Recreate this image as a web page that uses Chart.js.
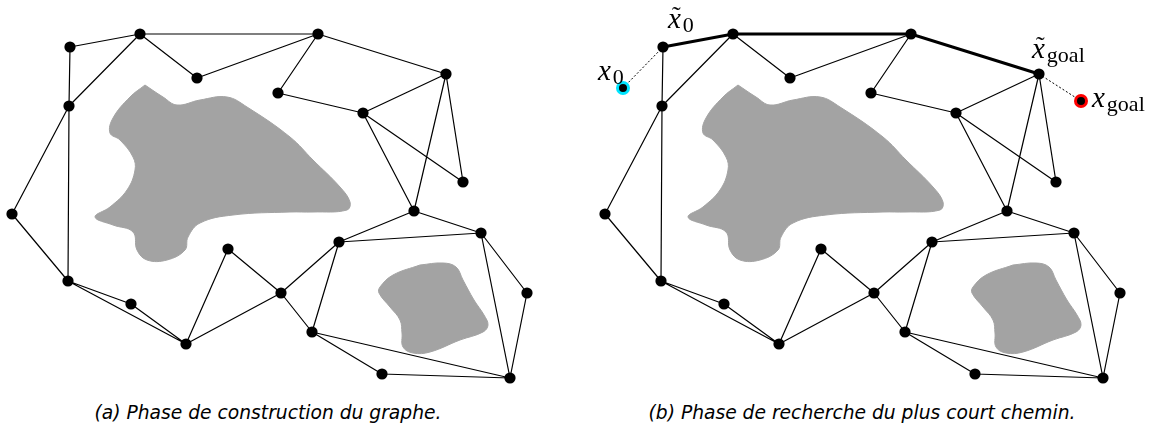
<!DOCTYPE html>
<html>
<head>
<meta charset="utf-8">
<script src="https://cdn.jsdelivr.net/npm/chart.js@4"></script>
<style>
    body { margin: 0; background: #fff; width: 1151px; height: 423px; overflow: hidden; position: relative; }
    .panel { position: absolute; top: 0; width: 558px; height: 390px; }
    .caption {
        position: absolute; top: 403px; width: 560px; text-align: center;
        font-family: 'DejaVu Sans', sans-serif; font-style: italic; font-size: 18.7px;
        line-height: 20px; color: #000;
    }
</style>
</head>
<body>
<div class="panel" style="left:0px"><canvas id="chartA"></canvas></div>
<div class="panel" style="left:593px"><canvas id="chartB"></canvas></div>
<div class="caption" id="capA" style="left:-12px"></div>
<div class="caption" id="capB" style="left:582px"></div>

<script>
// 그래프 노드 좌표 (평면 단위)
const nodeX = [70, 140, 197, 69, 12, 278, 318, 446, 363, 463, 414, 68, 131, 186, 228, 281, 339, 481, 527, 312, 382, 510];
const nodeY = [47, 34, 78, 106, 214, 93, 34, 74, 113, 182, 211, 281, 304, 344, 249, 293, 242, 233, 293, 332, 374, 378];

// 간선 (노드 인덱스 쌍)
const edges = [
    [0, 1], [0, 3], [1, 3], [1, 2], [1, 6], [2, 6], [5, 6], [6, 7], [5, 8], [8, 7],
    [8, 9], [8, 10], [7, 10], [7, 9], [3, 4], [3, 11], [4, 11], [11, 12], [11, 13], [12, 13],
    [13, 14], [14, 15], [13, 15], [15, 16], [15, 19], [16, 10], [10, 17], [16, 17], [16, 19],
    [17, 18], [17, 21], [18, 21], [19, 20], [19, 21], [20, 21]
];

// 최단 경로 (노드 인덱스)
const shortestPath = [0, 1, 6, 7];

// 시작점과 목표점
const startPoint = [30, 88];
const goalPoint = [488, 101];

// 장애물 외곽선
const bigObstacleX = [145, 163, 177, 200, 227, 247, 290, 313, 340, 350, 347, 313, 290, 233, 200, 188, 185, 167, 147, 137, 133, 113, 95, 110, 127, 135, 133, 120, 110, 113, 130, 145];
const bigObstacleY = [85, 97, 105, 100, 97, 107, 137, 160, 187, 202, 210, 212, 212, 215, 223, 237, 250, 260, 260, 250, 232, 225, 217, 207, 190, 170, 157, 140, 133, 118, 97, 85];
const smallObstacleX = [420, 443, 456, 463, 474, 484, 488, 483, 460, 430, 413, 403, 402, 400, 390, 379, 380, 393, 420];
const smallObstacleY = [265, 263, 267, 280, 300, 315, 325, 332, 340, 352, 353, 347, 333, 320, 307, 293, 287, 275, 265];

const captions = ['(a) Phase de construction du graphe.', '(b) Phase de recherche du plus court chemin.'];

function pt(i) {
    return { x: nodeX[i], y: nodeY[i] };
}

function outline(xs, ys) {
    return xs.map((x, i) => ({ x: x, y: ys[i] }));
}

function obstacleDataset(xs, ys) {
    return {
        data: outline(xs, ys),
        borderColor: '#a3a3a3',
        backgroundColor: '#a3a3a3',
        borderWidth: 1,
        fill: 'shape',
        tension: 0.4,
        pointRadius: 0,
        order: 10
    };
}

function edgeData() {
    const out = [];
    edges.forEach(([a, b]) => {
        out.push(pt(a), pt(b), { x: null, y: null });
    });
    return out;
}

function buildDatasets(withPath) {
    const sets = [
        obstacleDataset(bigObstacleX, bigObstacleY),
        obstacleDataset(smallObstacleX, smallObstacleY),
        {
            data: edgeData(),
            borderColor: '#000',
            borderWidth: 1.2,
            pointRadius: 0,
            spanGaps: false,
            order: 5
        }
    ];
    if (withPath) {
        sets.push({
            data: shortestPath.map(pt),
            borderColor: '#000',
            borderWidth: 3,
            pointRadius: 0,
            order: 4
        });
        sets.push({
            data: [{ x: startPoint[0], y: startPoint[1] }, pt(shortestPath[0]), { x: null, y: null },
                   pt(shortestPath[shortestPath.length - 1]), { x: goalPoint[0], y: goalPoint[1] }],
            borderColor: '#000',
            borderWidth: 1,
            borderDash: [2, 2],
            pointRadius: 0,
            order: 4
        });
        sets.push({
            data: [{ x: startPoint[0], y: startPoint[1] }],
            showLine: false,
            pointRadius: 5.5,
            borderWidth: 3,
            borderColor: '#00e5ff',
            backgroundColor: '#000',
            order: 1
        });
        sets.push({
            data: [{ x: goalPoint[0], y: goalPoint[1] }],
            showLine: false,
            pointRadius: 5.5,
            borderWidth: 3,
            borderColor: '#ff0000',
            backgroundColor: '#000',
            order: 1
        });
    }
    sets.push({
        data: nodeX.map((x, i) => pt(i)),
        showLine: false,
        pointRadius: 5.6,
        borderWidth: 0,
        backgroundColor: '#000',
        order: 2
    });
    sets.forEach(d => { d.clip = false; });
    return sets;
}

// 수식 레이블 그리기 (x̃0, x0, x̃goal, xgoal)
function drawMathLabel(ctx, x, y, sub, tilde) {
    ctx.save();
    ctx.fillStyle = '#000';
    ctx.textBaseline = 'alphabetic';
    ctx.textAlign = 'left';
    ctx.font = 'italic 29px "Liberation Serif", serif';
    ctx.fillText('x', x, y);
    const w = ctx.measureText('x').width;
    if (tilde) {
        ctx.font = '26px "Liberation Serif", serif';
        ctx.textAlign = 'center';
        ctx.fillText('˜', x + w / 2 + 2, y - 4);
        ctx.textAlign = 'left';
    }
    ctx.font = '22px "Liberation Serif", serif';
    ctx.fillText(sub, x + w + 2, y + 4);
    ctx.restore();
}

const labelPlugin = {
    id: 'mathLabels',
    afterDatasetsDraw(chart) {
        const xs = chart.scales.x;
        const ys = chart.scales.y;
        const ctx = chart.ctx;
        const a = shortestPath[0];
        const g = shortestPath[shortestPath.length - 1];
        drawMathLabel(ctx, xs.getPixelForValue(nodeX[a]) + 5, ys.getPixelForValue(nodeY[a]) - 19, '0', true);
        drawMathLabel(ctx, xs.getPixelForValue(startPoint[0]) - 25, ys.getPixelForValue(startPoint[1]) - 8, '0', false);
        drawMathLabel(ctx, xs.getPixelForValue(nodeX[g]) - 7, ys.getPixelForValue(nodeY[g]) - 16, 'goal', true);
        drawMathLabel(ctx, xs.getPixelForValue(goalPoint[0]) + 11, ys.getPixelForValue(goalPoint[1]) + 6, 'goal', false);
    }
};

function makeChart(id, withPath) {
    const ctx = document.getElementById(id).getContext('2d');
    return new Chart(ctx, {
        type: 'line',
        data: { datasets: buildDatasets(withPath) },
        options: {
            responsive: true,
            maintainAspectRatio: false,
            animation: false,
            layout: { padding: 0, autoPadding: false },
            scales: {
                x: { type: 'linear', min: 0, max: 558, display: false },
                y: { type: 'linear', min: 0, max: 390, reverse: true, display: false }
            },
            plugins: {
                legend: { display: false },
                tooltip: { enabled: false }
            }
        },
        plugins: withPath ? [labelPlugin] : []
    });
}

document.addEventListener('DOMContentLoaded', function() {
    document.getElementById('capA').textContent = captions[0];
    document.getElementById('capB').textContent = captions[1];
    makeChart('chartA', false);
    makeChart('chartB', true);
});
</script>
</body>
</html>
